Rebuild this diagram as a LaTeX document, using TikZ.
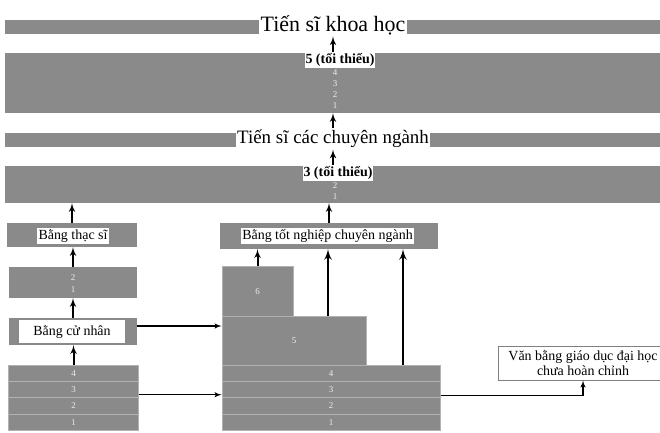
\documentclass[tikz,border=0pt]{standalone}
\usepackage{fontspec}
\setmainfont{Liberation Serif}
\usetikzlibrary{arrows}
\definecolor{bandgray}{RGB}{138,138,138}
\definecolor{linegray}{RGB}{178,178,178}

\begin{document}
\begin{tikzpicture}[x=1bp,y=-1bp]
\tikzset{band/.style = {shape=rectangle,fill=bandgray,inner sep=0pt}}
\tikzset{whitelabel/.style = {fill=white,inner sep=1.5pt,font=\fontsize{14}{15}\selectfont}}
\tikzset{minlabel/.style = {fill=white,inner sep=1pt,font=\bfseries\fontsize{14}{15}\selectfont}}
\tikzset{yearnum/.style = {text=white!85!bandgray,inner sep=0pt,font=\fontsize{9}{9}\selectfont}}
\tikzset{yearrow/.style = {band,draw=linegray,line width=1bp,minimum height=16.25bp,
    text=white!85!bandgray,font=\fontsize{9}{9}\selectfont}}
\tikzset{edge/.style = {->,> = latex',line width=2bp}}
\tikzset{longedge/.style = {->,> = latex',line width=2.6bp}}
\tikzset{sideedge/.style = {->,> = latex',line width=1.4bp}}
\useasboundingbox (0,0) rectangle (660,433);

% doctor levels
\node[band,minimum width=660bp,minimum height=14bp] (khband) at (335,27) {};
\node[whitelabel,font=\fontsize{22}{24}\selectfont] (ts) at (333,25) {Tiến sĩ khoa học};
\node[band,minimum width=660bp,minimum height=60bp] (y5) at (335,83) {};
\node[minlabel] (min5) at (340,60) {5 (tối thiểu)};
\foreach \n/\y in {4/73,3/84,2/95,1/106}
  \node[yearnum] (y5n\n) at (335,\y) {\n};
\node[band,minimum width=660bp,minimum height=14bp] (csband) at (335,140) {};
\node[whitelabel,font=\fontsize{19}{21}\selectfont] (tscn) at (333,139) {Tiến sĩ các chuyên ngành};
\node[band,minimum width=660bp,minimum height=37bp] (y3) at (335,184.5) {};
\node[minlabel] (min3) at (338,173) {3 (tối thiểu)};
\foreach \n/\y in {2/186,1/197}
  \node[yearnum] (y3n\n) at (335,\y) {\n};

% left column
\node[band,minimum width=130bp,minimum height=24bp] (thsband) at (72,235) {};
\node[whitelabel] (ths) at (73,236) {Bằng thạc sĩ};
\node[band,minimum width=128bp,minimum height=31bp] (ms) at (73,282.5) {};
\node[yearnum] (ms2) at (73,278) {2};
\node[yearnum] (ms1) at (73,290) {1};
\node[band,minimum width=128bp,minimum height=27bp] (cnband) at (73,331.5) {};
\node[whitelabel,minimum width=106bp,minimum height=23bp] (cn) at (72,331.5) {Bằng cử nhân};
\foreach \n/\y in {4/373.5,3/389.75,2/406,1/422.25}
  \node[yearrow,minimum width=129bp] (bl\n) at (73.5,\y) {\n};

% middle column
\node[band,minimum width=218bp,minimum height=26bp] (tnband) at (329,236) {};
\node[whitelabel] (tn) at (327.5,236) {Bằng tốt nghiệp chuyên ngành};
\node[yearrow,minimum width=71bp,minimum height=50bp] (c6) at (257.5,292) {6};
\node[yearrow,minimum width=144bp,minimum height=48bp] (c5) at (294,341) {5};
\foreach \n/\y in {4/373.5,3/389.75,2/406,1/422.25}
  \node[yearrow,minimum width=218bp] (bm\n) at (331,\y) {\n};

% unfinished degree
\node[draw=gray,fill=white,line width=1bp,align=center,inner sep=1pt,
  minimum width=170bp,minimum height=34bp,font=\fontsize{14}{15}\selectfont]
  (vb) at (583,363) {Văn bằng giáo dục đại học\\chưa hoàn chỉnh};

% arrow feet
\coordinate (c5foot) at ([xshift=34bp]c5.north);
\coordinate (bm4foot) at ([xshift=72bp]bm4.north);
\coordinate (cnout) at ([yshift=5.5bp]cnband.east);
\coordinate (blout) at ([yshift=-5bp]bl3.east);
\coordinate (bmout) at ([yshift=-6bp]bm3.east);

% arrows
\draw[edge] (min5.north -| ts.south) -- (ts.south);
\draw[edge] (tscn.north) -- (y5.south -| tscn.north);
\draw[edge] (min3.north -| tscn.south) -- (tscn.south);
\draw[edge] (thsband.north) -- (y3.south -| thsband.north);
\draw[edge] (tnband.north) -- (y3.south -| tnband.north);
\draw[edge] (ms.north) -- (thsband.south -| ms.north);
\draw[edge] (cnband.north) -- (ms.south -| cnband.north);
\draw[edge] (bl4.north) -- (cnband.south -| bl4.north);
\draw[edge] (c6.north) -- (tnband.south -| c6.north);
\draw[longedge] (c5foot) -- (tnband.south -| c5foot);
\draw[longedge] (bm4foot) -- (tnband.south -| bm4foot);
\draw[sideedge] (cnout) -- (cnout -| c5.west);
\draw[sideedge] (blout) -- (blout -| bm3.west);
\draw[sideedge] (bmout) -| (vb.south);
\end{tikzpicture}
\end{document}
